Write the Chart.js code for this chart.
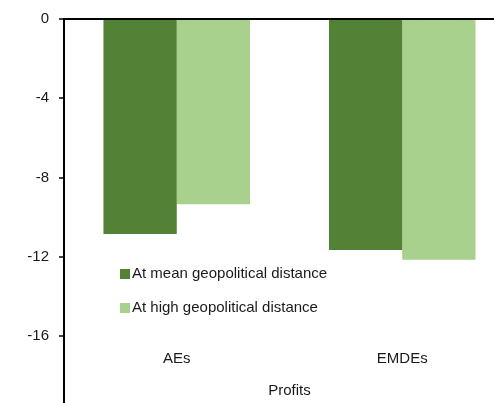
<!DOCTYPE html>
<html>
<head>
<meta charset="utf-8">
<script src="https://cdn.jsdelivr.net/npm/chart.js@4/dist/chart.umd.min.js"></script>
<style>
  html, body { margin: 0; padding: 0; overflow: hidden; background: #fff; }
  #wrap { position: relative; width: 494px; height: 403px; overflow: hidden; }
  canvas { position: absolute; left: 0; top: 0; }
  .leg { position: absolute; font-family: 'Liberation Sans', Arial, sans-serif; font-size: 15px; color: #1a1a1a; white-space: nowrap; line-height: 18px; }
  .leg span.box { display: inline-block; width: 10px; height: 10px; margin-right: 2px; vertical-align: -1px; }
</style>
</head>
<body>
<div id="wrap">
  <canvas id="c" width="516" height="403" style="width:516px;height:403px"></canvas>
  <div id="legend"></div>
</div>
<script>
const categories = ['AEs', 'EMDEs'];
const seriesLabels = ['At mean geopolitical distance', 'At high geopolitical distance'];
const meanDistance = [-10.85, -11.65];
const highDistance = [-9.35, -12.15];
const yTickValues = [0, -4, -8, -12, -16];
const axisTitle = 'Profits';
const colors = ['#538135', '#A9D18E'];

const FONT = "'Liberation Sans', Arial, sans-serif";
const TEXT = '#1a1a1a';

const extendAxis = {
  id: 'extendAxis',
  afterDraw(chart) {
    const ctx = chart.ctx, a = chart.chartArea;
    ctx.save();
    ctx.strokeStyle = '#000';
    ctx.lineWidth = 2;
    ctx.beginPath();
    ctx.moveTo(a.left, a.bottom);
    ctx.lineTo(a.left, chart.height);
    ctx.stroke();
    ctx.restore();
  }
};

const chart = new Chart(document.getElementById('c'), {
  type: 'bar',
  data: {
    labels: categories,
    datasets: [
      { label: seriesLabels[0], data: meanDistance, backgroundColor: colors[0], borderWidth: 0 },
      { label: seriesLabels[1], data: highDistance, backgroundColor: colors[1], borderWidth: 0 }
    ]
  },
  options: {
    responsive: false,
    animation: false,
    devicePixelRatio: 1,
    layout: { padding: { top: 17, right: 1, bottom: 3, left: 0 } },
    datasets: { bar: { categoryPercentage: 0.65, barPercentage: 1 } },
    plugins: { legend: { display: false }, tooltip: { enabled: false } },
    scales: {
      x: {
        grid: { display: false, drawTicks: false },
        border: { display: false },
        ticks: { padding: 2, color: TEXT, font: { family: FONT, size: 15 } },
        title: { display: true, text: axisTitle, color: TEXT, font: { family: FONT, size: 15 }, padding: { top: 12, bottom: 0 } }
      },
      y: {
        min: -16.6,
        max: 0,
        afterBuildTicks(s) { s.ticks = yTickValues.map(v => ({ value: v })); },
        afterFit(s) { s.width = 64; },
        grid: {
          color: c => (c.tick && c.tick.value === 0) ? '#000' : 'rgba(0,0,0,0)',
          lineWidth: 2,
          tickColor: '#000',
          tickLength: 5,
          tickWidth: 1.5,
          drawOnChartArea: true
        },
        border: { display: true, color: '#000', width: 2 },
        ticks: { padding: 10, color: TEXT, font: { family: FONT, size: 15 }, callback: v => String(v) }
      }
    }
  },
  plugins: [extendAxis]
});

const legend = document.getElementById('legend');
const legendTops = [264, 297.5];
seriesLabels.forEach((lab, i) => {
  const d = document.createElement('div');
  d.className = 'leg';
  d.style.left = '120px';
  d.style.top = legendTops[i] + 'px';
  d.innerHTML = '<span class="box" style="background:' + colors[i] + '"></span>' + lab;
  legend.appendChild(d);
});
</script>
</body>
</html>
